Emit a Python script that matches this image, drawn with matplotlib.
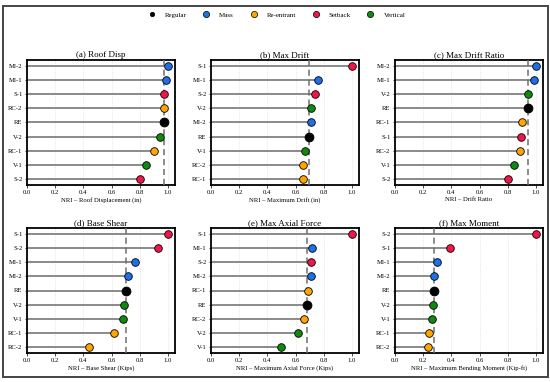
import numpy as np
import matplotlib
matplotlib.use('Agg')
import matplotlib.pyplot as plt
from matplotlib.lines import Line2D
from matplotlib.patches import Rectangle

plt.rcParams['font.family'] = ['Liberation Serif', 'DejaVu Serif']

# colours per building type
type_colors = {"Regular": "#000000", "Mass": "#1E6FE8", "Re-entrant": "#FFA500",
               "Setback": "#F0164A", "Vertical": "#0F8A0F"}
prefix_type = {"RE": "Regular", "MI": "Mass", "RC": "Re-entrant", "S": "Setback", "V": "Vertical"}

# each panel, listed top -> bottom
titles = ["(a) Roof Disp", "(b) Max Drift", "(c) Max Drift Ratio",
          "(d) Base Shear", "(e) Max Axial Force", "(f) Max Moment"]
xlabels = ["NRI \u2013 Roof Displacement (in)", "NRI \u2013 Maximum Drift (in)", "NRI \u2013 Drift Ratio",
           "NRI \u2013 Base Shear (Kips)", "NRI \u2013 Maximum Axial Force (Kips)",
           "NRI \u2013 Maximum Bending Moment (Kip-ft)"]

roof_lbl = ["MI-2", "MI-1", "S-1", "RC-2", "RE", "V-2", "RC-1", "V-1", "S-2"]
roof_val = [1.0, 0.986, 0.975, 0.975, 0.975, 0.946, 0.898, 0.846, 0.80]

drift_lbl = ["S-1", "MI-1", "S-2", "V-2", "MI-2", "RE", "V-1", "RC-2", "RC-1"]
drift_val = [1.0, 0.758, 0.739, 0.711, 0.711, 0.697, 0.668, 0.652, 0.652]

ratio_lbl = ["MI-2", "MI-1", "V-2", "RE", "RC-1", "S-1", "RC-2", "V-1", "S-2"]
ratio_val = [1.0, 0.983, 0.941, 0.941, 0.898, 0.894, 0.887, 0.846, 0.799]

shear_lbl = ["S-1", "S-2", "MI-1", "MI-2", "RE", "V-2", "V-1", "RC-1", "RC-2"]
shear_val = [1.0, 0.93, 0.768, 0.719, 0.70, 0.69, 0.678, 0.62, 0.437]

axial_lbl = ["S-1", "MI-1", "S-2", "MI-2", "RC-1", "RE", "RC-2", "V-2", "V-1"]
axial_val = [1.0, 0.716, 0.711, 0.711, 0.685, 0.68, 0.661, 0.618, 0.495]

moment_lbl = ["S-2", "S-1", "MI-1", "MI-2", "RE", "V-2", "V-1", "RC-1", "RC-2"]
moment_val = [1.0, 0.388, 0.298, 0.279, 0.274, 0.27, 0.262, 0.241, 0.236]

panels = [(roof_lbl, roof_val), (drift_lbl, drift_val), (ratio_lbl, ratio_val),
          (shear_lbl, shear_val), (axial_lbl, axial_val), (moment_lbl, moment_val)]

fig = plt.figure(figsize=(5.5, 3.82), dpi=100)

lefts = [27, 211, 395]
tops = [60, 228]
w, h = 148, 125
W, H = 550.0, 382.0

for k, (lbls, vals) in enumerate(panels):
    r, c = divmod(k, 3)
    ax = fig.add_axes([lefts[c] / W, 1 - (tops[r] + h) / H, w / W, h / H])
    n = len(lbls)
    y = np.arange(n)[::-1]
    ax.hlines(y, 0, vals, color="#8a8a8a", linewidth=1.4, zorder=2)
    for yi, lab, v in zip(y, lbls, vals):
        t = prefix_type[lab.split("-")[0]]
        ms = 6.4 if t == "Regular" else 5.5
        ax.plot(v, yi, 'o', color=type_colors[t], markeredgecolor='black',
                markeredgewidth=0.6, markersize=ms, zorder=4)
    ref = vals[lbls.index("RE")]
    ax.axvline(ref, color="#6e6e6e", linestyle=(0, (4, 2.5)), linewidth=1.1, zorder=3)
    ax.set_xlim(0, 1.05)
    ax.set_ylim(-0.4, n - 0.6)
    ax.set_xticks([0.0, 0.2, 0.4, 0.6, 0.8, 1.0])
    ax.set_yticks(y)
    ax.set_yticklabels(lbls)
    ax.grid(axis='x', color="#dddddd", linestyle=':', linewidth=0.6, zorder=0)
    ax.tick_params(labelsize=4.8, length=1.8, width=0.5, pad=1.5)
    for s in ax.spines.values():
        s.set_linewidth(1.3)
    ax.set_title(titles[k], fontsize=6.5, pad=2)
    ax.set_xlabel(xlabels[k], fontsize=4.8, labelpad=2)

handles = [Line2D([], [], marker='o', linestyle='', color=col,
                  markeredgecolor='black' if name != "Regular" else col,
                  markeredgewidth=0.5, markersize=4.5 if name != "Regular" else 3.2, label=name)
           for name, col in type_colors.items()]
fig.legend(handles=handles, loc='upper center', bbox_to_anchor=(0.5, 0.985), ncol=5,
           frameon=False, fontsize=5, columnspacing=1.8, handletextpad=0.9)

fig.patches.append(Rectangle((0.006, 0.013), 0.99, 0.972, transform=fig.transFigure,
                             fill=False, edgecolor="#444444", linewidth=1.4))

fig.savefig("out.png", dpi=100)
